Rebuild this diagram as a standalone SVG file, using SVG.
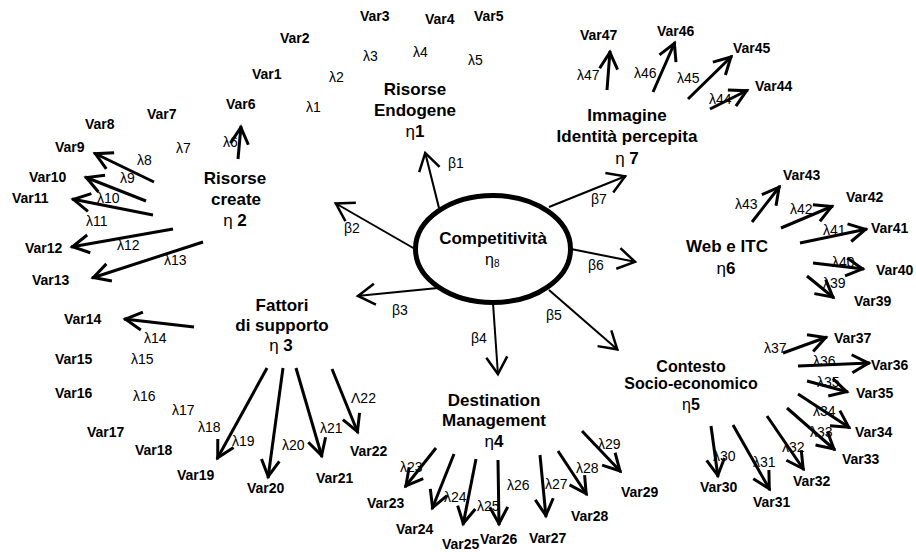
<svg xmlns="http://www.w3.org/2000/svg" width="916" height="552" viewBox="0 0 916 552">
<defs>
<marker id="la" markerUnits="userSpaceOnUse" orient="auto" refX="0" refY="0" markerWidth="40" markerHeight="40" overflow="visible">
<path d="M-18,-9 L-1.5,0 L-18,9" fill="none" stroke="#000" stroke-width="3"/>
</marker>
<marker id="ba" markerUnits="userSpaceOnUse" orient="auto" refX="0" refY="0" markerWidth="40" markerHeight="40" overflow="visible">
<path d="M-18,-10.5 L-1,0 L-18,10.5" fill="none" stroke="#000" stroke-width="2.5"/>
</marker>
<style>
text{font-family:"Liberation Sans",Arial,sans-serif;fill:#000}
.v{font-size:14px;font-weight:bold}
.l{font-size:14px}
.n{font-size:17px;font-weight:bold;text-anchor:middle}
.n16{font-size:16px;font-weight:bold;text-anchor:middle}
.g{font-weight:normal}
.ld{stroke:#000;stroke-width:3;fill:none;marker-end:url(#la)}
.st{stroke:#000;stroke-width:2;fill:none;marker-end:url(#ba)}
</style>
</defs>
<rect width="916" height="552" fill="#fff"/>

<g id="connectors">
<!-- structural paths -->
<line class="st" x1="439" y1="208" x2="425" y2="152"/>
<line class="st" x1="415" y1="249" x2="335" y2="203"/>
<line class="st" x1="438" y1="288" x2="357" y2="296"/>
<line class="st" x1="493" y1="303" x2="498" y2="375"/>
<line class="st" x1="549" y1="290" x2="618" y2="350"/>
<line class="st" x1="571" y1="249" x2="636" y2="262"/>
<line class="st" x1="549" y1="207" x2="626" y2="176"/>
<!-- loadings -->
<line class="ld" x1="238" y1="159" x2="241" y2="126"/>
<line class="ld" x1="154" y1="182" x2="94" y2="153"/>
<line class="ld" x1="146" y1="201" x2="85" y2="177"/>
<line class="ld" x1="153" y1="215" x2="72" y2="199"/>
<line class="ld" x1="173" y1="229" x2="71" y2="247"/>
<line class="ld" x1="203" y1="242" x2="92" y2="278"/>
<line class="ld" x1="194" y1="327" x2="124" y2="319"/>
<line class="ld" x1="267" y1="368" x2="217" y2="459"/>
<line class="ld" x1="283" y1="368" x2="268" y2="478"/>
<line class="ld" x1="296" y1="368" x2="322" y2="457"/>
<line class="ld" x1="332" y1="369" x2="358" y2="433"/>
<line class="ld" x1="436" y1="448" x2="405" y2="487"/>
<line class="ld" x1="454" y1="454" x2="432" y2="509"/>
<line class="ld" x1="476" y1="459" x2="463" y2="525"/>
<line class="ld" x1="498" y1="460" x2="499" y2="525"/>
<line class="ld" x1="540" y1="455" x2="546" y2="517"/>
<line class="ld" x1="558" y1="451" x2="587" y2="495"/>
<line class="ld" x1="582" y1="431" x2="621" y2="472"/>
<line class="ld" x1="711" y1="426" x2="718" y2="477"/>
<line class="ld" x1="733" y1="425" x2="770" y2="490"/>
<line class="ld" x1="767" y1="416" x2="804" y2="470"/>
<line class="ld" x1="787" y1="408" x2="835" y2="450"/>
<line class="ld" x1="798" y1="394" x2="850" y2="428"/>
<line class="ld" x1="807" y1="381" x2="848" y2="392"/>
<line class="ld" x1="798" y1="366" x2="870" y2="363"/>
<line class="ld" x1="783" y1="353" x2="827" y2="337"/>
<line class="ld" x1="807" y1="276" x2="834" y2="298"/>
<line class="ld" x1="813" y1="263" x2="864" y2="269"/>
<line class="ld" x1="800" y1="243" x2="867" y2="229"/>
<line class="ld" x1="781" y1="228" x2="833" y2="206"/>
<line class="ld" x1="752" y1="222" x2="780" y2="186"/>
<line class="ld" x1="710" y1="109" x2="748" y2="90"/>
<line class="ld" x1="688" y1="99" x2="732" y2="56"/>
<line class="ld" x1="653" y1="92" x2="675" y2="42"/>
<line class="ld" x1="607" y1="90" x2="610" y2="51"/>
<!-- labels -->
<g class="l">
<text x="448" y="168">β1</text>
<text x="344" y="233">β2</text>
<text x="392" y="315">β3</text>
<text x="471" y="343">β4</text>
<text x="546" y="320">β5</text>
<text x="588" y="270">β6</text>
<text x="591" y="204">β7</text>
<text x="306" y="112">λ1</text>
<text x="329" y="82">λ2</text>
<text x="363" y="61">λ3</text>
<text x="413" y="57">λ4</text>
<text x="468" y="65">λ5</text>
<text x="223" y="147">λ6</text>
<text x="176" y="153">λ7</text>
<text x="137" y="165">λ8</text>
<text x="120" y="183">λ9</text>
<text x="97" y="203">λ10</text>
<text x="86" y="226">λ11</text>
<text x="117" y="250">λ12</text>
<text x="164" y="265">λ13</text>
<text x="144" y="343">λ14</text>
<text x="131" y="364">λ15</text>
<text x="133" y="401">λ16</text>
<text x="172" y="415">λ17</text>
<text x="198" y="432">λ18</text>
<text x="232" y="446">λ19</text>
<text x="282" y="450">λ20</text>
<text x="320" y="433">λ21</text>
<text x="351" y="403">Λ22</text>
<text x="400" y="472">λ23</text>
<text x="444" y="502">λ24</text>
<text x="477" y="511">λ25</text>
<text x="507" y="490">λ26</text>
<text x="545" y="489">λ27</text>
<text x="576" y="473">λ28</text>
<text x="598" y="449">λ29</text>
<text x="713" y="461">λ30</text>
<text x="753" y="467">λ31</text>
<text x="782" y="452">λ32</text>
<text x="810" y="437">λ33</text>
<text x="813" y="416">λ34</text>
<text x="817" y="387">λ35</text>
<text x="813" y="366">λ36</text>
<text x="764" y="353">λ37</text>
<text x="823" y="288">λ39</text>
<text x="832" y="267">λ40</text>
<text x="823" y="235">λ41</text>
<text x="790" y="214">λ42</text>
<text x="735" y="209">λ43</text>
<text x="709" y="104">λ44</text>
<text x="677" y="83">λ45</text>
<text x="634" y="78">λ46</text>
<text x="577" y="80">λ47</text>
</g>
</g>

<g id="eta8">
<ellipse cx="493" cy="249" rx="77.5" ry="53.5" fill="#fff" stroke="#000" stroke-width="5"/>
<text class="n" x="493" y="244">Competitività</text>
<text x="485" y="265" font-size="16">η<tspan font-size="10" dy="2">8</tspan></text>
</g>
<g id="eta1">
<text class="n" x="415" y="95">Risorse</text>
<text class="n" x="415" y="116">Endogene</text>
<text class="n" x="415" y="137"><tspan class="g">η</tspan>1</text>
</g>
<g id="eta2">
<text class="n" x="235" y="184">Risorse</text>
<text class="n" x="236" y="204.5">create</text>
<text class="n" x="235" y="225.5"><tspan class="g">η</tspan> 2</text>
</g>
<g id="eta3">
<text class="n" x="282" y="310.5">Fattori</text>
<text class="n" x="282" y="330.5">di supporto</text>
<text class="n" x="281" y="350.5"><tspan class="g">η</tspan> 3</text>
</g>
<g id="eta4">
<text class="n" x="494" y="406">Destination</text>
<text class="n" x="494" y="426">Management</text>
<text class="n" x="494" y="447"><tspan class="g">η</tspan>4</text>
</g>
<g id="eta5">
<text class="n16" x="691" y="371.5">Contesto</text>
<text class="n16" x="691" y="389">Socio-economico</text>
<text class="n16" x="691" y="409.5"><tspan class="g">η</tspan>5</text>
</g>
<g id="eta6">
<text class="n" x="727" y="251.5">Web e ITC</text>
<text class="n" x="726" y="274"><tspan class="g">η</tspan>6</text>
</g>
<g id="eta7">
<text class="n" x="627" y="121">Immagine</text>
<text class="n" x="627" y="141.5">Identità percepita</text>
<text class="n" x="627" y="164"><tspan class="g">η</tspan> 7</text>
</g>

<g class="v">
<g id="var1"><text x="252" y="79">Var1</text></g>
<g id="var2"><text x="280" y="43">Var2</text></g>
<g id="var3"><text x="360" y="21">Var3</text></g>
<g id="var4"><text x="425" y="24">Var4</text></g>
<g id="var5"><text x="474" y="21">Var5</text></g>
<g id="var6"><text x="226" y="109">Var6</text></g>
<g id="var7"><text x="147" y="119">Var7</text></g>
<g id="var8"><text x="85" y="129">Var8</text></g>
<g id="var9"><text x="55" y="152">Var9</text></g>
<g id="var10"><text x="29" y="182">Var10</text></g>
<g id="var11"><text x="12" y="203">Var11</text></g>
<g id="var12"><text x="25" y="253">Var12</text></g>
<g id="var13"><text x="32" y="285">Var13</text></g>
<g id="var14"><text x="64" y="324">Var14</text></g>
<g id="var15"><text x="55" y="364">Var15</text></g>
<g id="var16"><text x="55" y="398">Var16</text></g>
<g id="var17"><text x="87" y="437">Var17</text></g>
<g id="var18"><text x="135" y="455">Var18</text></g>
<g id="var19"><text x="177" y="480">Var19</text></g>
<g id="var20"><text x="247" y="493">Var20</text></g>
<g id="var21"><text x="316" y="483">Var21</text></g>
<g id="var22"><text x="350" y="456">Var22</text></g>
<g id="var23"><text x="367" y="508">Var23</text></g>
<g id="var24"><text x="396" y="534">Var24</text></g>
<g id="var25"><text x="442" y="549">Var25</text></g>
<g id="var26"><text x="480" y="544">Var26</text></g>
<g id="var27"><text x="529" y="543">Var27</text></g>
<g id="var28"><text x="571" y="521">Var28</text></g>
<g id="var29"><text x="621" y="497">Var29</text></g>
<g id="var30"><text x="700" y="492">Var30</text></g>
<g id="var31"><text x="753" y="507">Var31</text></g>
<g id="var32"><text x="793" y="486">Var32</text></g>
<g id="var33"><text x="842" y="464">Var33</text></g>
<g id="var34"><text x="855" y="437">Var34</text></g>
<g id="var35"><text x="856" y="398">Var35</text></g>
<g id="var36"><text x="871" y="370">Var36</text></g>
<g id="var37"><text x="834" y="343">Var37</text></g>
<g id="var39"><text x="854" y="306">Var39</text></g>
<g id="var40"><text x="876" y="275">Var40</text></g>
<g id="var41"><text x="871" y="233">Var41</text></g>
<g id="var42"><text x="846" y="202">Var42</text></g>
<g id="var43"><text x="783" y="180">Var43</text></g>
<g id="var44"><text x="755" y="91">Var44</text></g>
<g id="var45"><text x="733" y="53">Var45</text></g>
<g id="var46"><text x="657" y="36">Var46</text></g>
<g id="var47"><text x="580" y="40">Var47</text></g>
</g>
</svg>
